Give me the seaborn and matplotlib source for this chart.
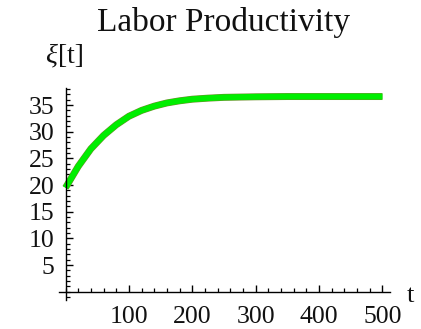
import matplotlib
matplotlib.use("Agg")
import matplotlib.pyplot as plt
import matplotlib.patheffects as pe
import seaborn as sns
import pandas as pd
from matplotlib.ticker import MultipleLocator, FixedLocator

# Data
t_values = [0, 20, 40, 60, 80, 100, 120, 140, 160, 180, 200, 225, 250, 300, 350, 400, 450, 500]
xi_values = [19.5, 23.5, 26.8, 29.3, 31.3, 32.9, 34.0, 34.8, 35.4, 35.8, 36.1, 36.3, 36.45, 36.55, 36.6, 36.6, 36.6, 36.6]
x_ticks = [100, 200, 300, 400, 500]
y_ticks = [5, 10, 15, 20, 25, 30, 35]
title = "Labor Productivity"

sns.set_style("ticks")
plt.rcParams['font.family'] = ['Liberation Serif', 'DejaVu Serif']

df = pd.DataFrame({"t": t_values, "xi": xi_values})

fig = plt.figure(figsize=(4.21, 3.29), dpi=100)
ax = fig.add_axes([0.140, 0.088, 0.786, 0.6445])

sns.lineplot(data=df, x="t", y="xi", ax=ax, color="#00ee00", linewidth=4.2,
             solid_capstyle='butt', solid_joinstyle='round',
             path_effects=[pe.Stroke(linewidth=5.0, foreground="#6a8f2a", capstyle='butt'), pe.Normal()])

ax.set_xlim(-10.4, 511.7)
ax.set_ylim(-1.56, 38.2)
ax.spines['left'].set_position(('data', 0))
ax.spines['bottom'].set_position(('data', 0))
ax.spines['top'].set_visible(False)
ax.spines['right'].set_visible(False)
for s in ('left', 'bottom'):
    ax.spines[s].set_linewidth(1.0)
    ax.spines[s].set_color('black')

ax.xaxis.set_major_locator(FixedLocator(x_ticks))
ax.xaxis.set_minor_locator(MultipleLocator(20))
ax.yaxis.set_major_locator(FixedLocator(y_ticks))
ax.yaxis.set_minor_locator(MultipleLocator(1))
ax.tick_params(which='major', direction='in', length=5, width=1.0, labelsize=18.5,
               color='black', labelcolor='#111111')
ax.tick_params(which='minor', direction='in', length=3, width=0.9, color='black')
ax.tick_params(axis='x', which='major', pad=10)
ax.tick_params(axis='y', which='major', pad=8)
ax.set_xlabel("")
ax.set_ylabel("")

fig.text(0.531, 0.906, title, ha='center', va='baseline', fontsize=24, color='#111111')
fig.text(0.107, 0.81, "\u03be", ha='left', va='baseline', fontsize=20, style='italic', color='#111111')
fig.text(0.138, 0.81, "[t]", ha='left', va='baseline', fontsize=20, color='#111111')
fig.text(0.966, 0.082, "t", ha='left', va='baseline', fontsize=19, color='#111111')

fig.savefig("out.png", dpi=100)
